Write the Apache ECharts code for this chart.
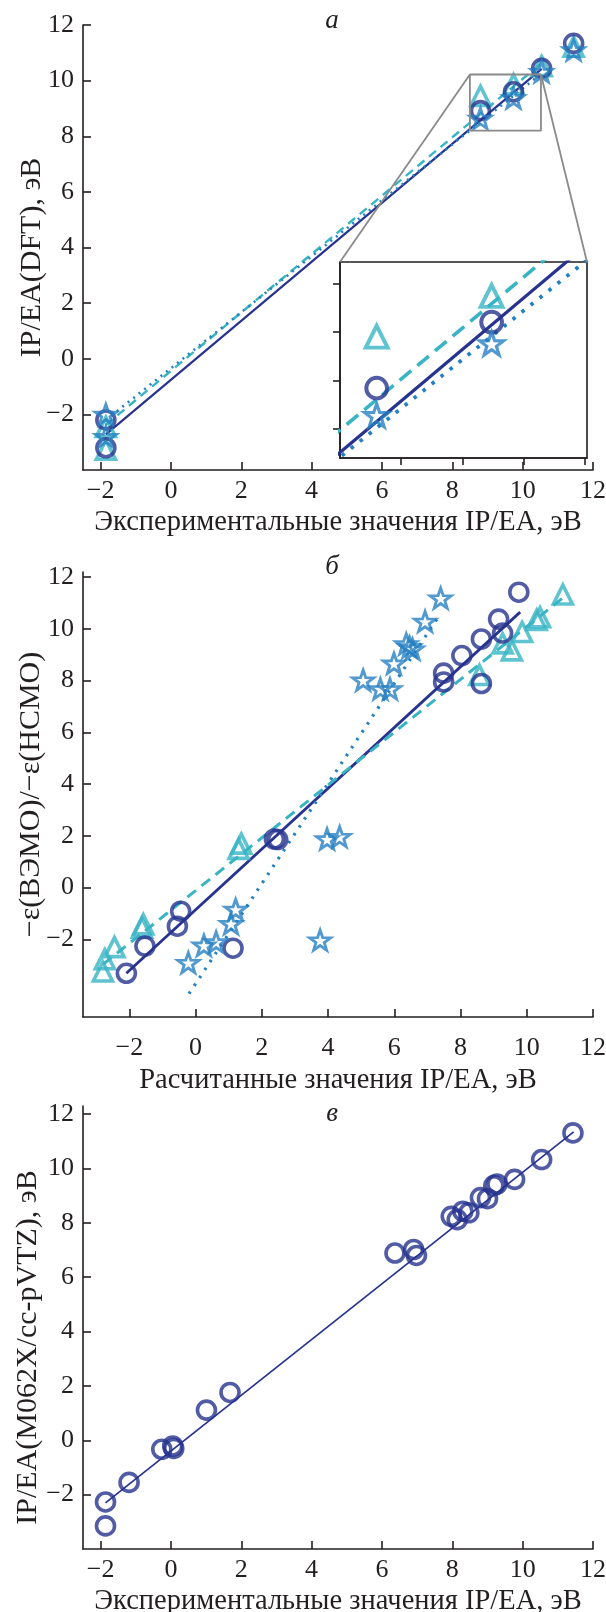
<!DOCTYPE html>
<html><head><meta charset="utf-8">
<script src="https://cdn.jsdelivr.net/npm/echarts@6/dist/echarts.min.js"></script>
<style>html,body{margin:0;padding:0;background:#fff}#c{width:606px;height:1612px}</style>
</head><body><div id="c"></div>
<script>
// ---------- Panel а ----------
const aCircles   = [[-1.85,-2.2],[-1.85,-3.2],[8.8,8.92],[9.74,9.6],[10.54,10.44],[11.45,11.34]];
const aTriangles = [[-1.85,-2.45],[-1.85,-3.27],[8.8,9.45],[9.74,9.87],[10.54,10.52],[11.45,11.22]];
const aStars     = [[-1.85,-2.0],[-1.85,-2.8],[8.8,8.64],[9.74,9.38],[10.54,10.32],[11.45,11.1]];
const aFitSolid  = [[-1.85,-2.72],[10.54,10.42]];
const aFitDashed = [[-1.85,-2.38],[10.54,10.63]];
const aFitDotted = [[-1.85,-2.2],[10.54,10.26]];
const aZoomX = [8.5, 10.52];
const aZoomY = [8.2, 10.22];
const aZoomTicksX = [9, 9.5, 10, 10.5];
const aZoomTicksY = [8.5, 9, 9.5, 10];

// ---------- Panel б ----------
const bCircles = [[-2.09,-3.31],[-1.53,-2.26],[-0.55,-1.49],[-0.45,-0.91],[1.13,-2.34],[2.38,1.88],[2.48,1.86],
  [7.49,8.29],[7.49,7.95],[8.04,8.97],[8.63,9.61],[8.63,7.89],[9.15,10.38],[9.27,9.84],[9.76,11.42]];
const bTriangles = [[-2.8,-3.24],[-2.74,-2.77],[-2.45,-2.3],[-1.62,-1.55],[-1.58,-1.42],[1.3,1.5],[1.38,1.7],
  [8.57,8.22],[9.27,9.44],[9.55,9.17],[9.86,9.88],[10.3,10.35],[10.4,10.45],[11.09,11.33]];
const bStars = [[-0.22,-2.9],[0.25,-2.23],[0.62,-2.1],[1.07,-1.39],[1.21,-0.84],[3.76,-2.03],[3.97,1.88],[4.35,1.97],
  [5.06,8.02],[5.58,7.68],[5.87,7.68],[5.99,8.67],[6.36,9.42],[6.46,9.3],[6.55,9.22],[6.93,10.29],[7.4,11.19]];
const bFitSolid  = [[-2.09,-3.31],[9.8,10.65]];
const bFitDashed = [[-2.8,-2.97],[11.09,11.2]];
const bFitDotted = [[-0.2,-4.1],[7.4,10.6]];

// ---------- Panel в ----------
const cCircles = [[-1.86,-2.27],[-1.86,-3.15],[-1.19,-1.55],[-0.26,-0.33],[0.05,-0.21],[0.08,-0.3],[1.01,1.11],[1.68,1.76],
  [6.37,6.89],[6.9,7.02],[6.98,6.8],[7.97,8.24],[8.14,8.12],[8.3,8.43],[8.47,8.37],[8.8,8.93],[9.0,8.89],
  [9.18,9.37],[9.27,9.43],[9.77,9.6],[10.54,10.33],[11.43,11.31]];
const cFit = [[-1.86,-2.3],[11.45,11.35]];

// ---------- Axis tick values ----------
const xTicks = [-2, 0, 2, 4, 6, 8, 10, 12];
const yTicks = [-2, 0, 2, 4, 6, 8, 10, 12];

const NAVY = '#27338f', CYAN = '#38b4c4', SKY = '#2580c2';
const INK = '#231f20';
const FONT = '"Liberation Serif", "Times New Roman", serif';
const STAR = 'path://M0,-10 L2.35,-3.24 L9.51,-3.09 L3.8,1.24 L5.88,8.09 L0,4 L-5.88,8.09 L-3.8,1.24 L-9.51,-3.09 L-2.35,-3.24 Z';

function scat(data, g, kind, color, k) {
  k = k || 1;
  const sym = kind === 'c' ? 'circle' : kind === 't' ? 'triangle' : STAR;
  const size = (kind === 'c' ? 18 : kind === 't' ? 19 : 21) * k;
  return { type: 'scatter', xAxisIndex: g, yAxisIndex: g, data: data, symbol: sym, symbolSize: size,
    symbolKeepAspect: true, clip: true, silent: true, z: 3,
    itemStyle: { color: 'rgba(255,255,255,0)', borderColor: color, borderWidth: (kind === 's' ? 2.9 : 3.6) * (k > 1 ? 1.1 : 1) } };
}
function fit(data, g, color, type, width) {
  return { type: 'line', xAxisIndex: g, yAxisIndex: g, data: data, showSymbol: false, symbol: 'none', clip: true,
    silent: true, z: 2, lineStyle: { color: color, width: width, type: type } };
}
function fmt(v) { return v < 0 ? '\u2212' + Math.abs(v) : '' + v; }
function xAx(g, min, max, name, gap, margin) {
  return { type: 'value', gridIndex: g, min: min, max: max, name: name, nameLocation: 'middle', nameGap: gap,
    nameTextStyle: { fontFamily: FONT, fontSize: 28.5, color: INK },
    axisLine: { onZero: false, lineStyle: { color: INK, width: 1.6 } },
    axisTick: { inside: true, length: 8, customValues: xTicks, lineStyle: { color: INK, width: 1.6 } },
    axisLabel: { customValues: xTicks, fontFamily: FONT, fontSize: 26, color: INK, margin: margin, formatter: fmt },
    splitLine: { show: false } };
}
function yAx(g, min, max, name, gap, shiftDown) {
  return { type: 'value', gridIndex: g, min: min, max: max, name: name, nameLocation: 'middle', nameGap: gap,
    nameMoveOverlap: false,
    nameTextStyle: { fontFamily: FONT, fontSize: 30, color: INK, padding: [0, shiftDown * 2, 0, 0] },
    axisLine: { onZero: false, lineStyle: { color: INK, width: 1.6 } },
    axisTick: { inside: true, length: 8, customValues: yTicks, lineStyle: { color: INK, width: 1.6 } },
    axisLabel: { customValues: yTicks, fontFamily: FONT, fontSize: 26, color: INK, margin: 9, formatter: fmt },
    splitLine: { show: false } };
}
function insetAx(g, min, max, ticks) {
  return { type: 'value', gridIndex: g, min: min, max: max, z: 6,
    axisLine: { onZero: false, lineStyle: { color: INK, width: 1.6 } },
    axisTick: { inside: false, length: 7, customValues: ticks, lineStyle: { color: INK, width: 1.6 } },
    axisLabel: { show: false }, splitLine: { show: false } };
}

const chart = echarts.init(document.getElementById('c'), null, { renderer: 'canvas' });
const zoomRect = [[aZoomX[0], aZoomY[0]], [aZoomX[1], aZoomY[0]], [aZoomX[1], aZoomY[1]], [aZoomX[0], aZoomY[1]], [aZoomX[0], aZoomY[0]]];

chart.setOption({
  animation: false,
  backgroundColor: '#fff',
  grid: [
    { left: 83, top: 25, width: 510, height: 445, outerBoundsMode: 'none' },
    { left: 340, top: 262, width: 247, height: 196, show: true, backgroundColor: '#fff', borderColor: INK, borderWidth: 1.6, z: 5, outerBoundsMode: 'none' },
    { left: 83, top: 572, width: 510, height: 445, outerBoundsMode: 'none' },
    { left: 83, top: 1106, width: 510, height: 443, outerBoundsMode: 'none' }
  ],
  xAxis: [
    xAx(0, -2.5, 12, 'Экспериментальные значения IP/EA, эВ', 38, 8),
    insetAx(1, aZoomX[0], aZoomX[1], aZoomTicksX),
    xAx(2, -3.4, 12, 'Расчитанные значения IP/EA, эВ', 49, 18),
    xAx(3, -2.5, 12, 'Экспериментальные значения IP/EA, эВ', 38, 8)
  ],
  yAxis: [
    yAx(0, -4, 12, 'IP/EA(DFT), эВ', 36, 10),
    insetAx(1, aZoomY[0], aZoomY[1], aZoomTicksY),
    yAx(2, -5, 12.2, '\u2212ε(ВЭМО)/\u2212ε(НСМО)', 37, 0),
    yAx(3, -4, 12.3, 'IP/EA(M062X/cc-pVTZ), эВ', 40, 20)
  ],
  series: [
    // panel а main
    fit(aFitSolid, 0, NAVY, 'solid', 2.2),
    fit(aFitDashed, 0, CYAN, [9, 6], 2.4),
    fit(aFitDotted, 0, SKY, [2, 5], 2.6),
    scat(aTriangles, 0, 't', CYAN),
    scat(aCircles, 0, 'c', NAVY),
    scat(aStars, 0, 's', SKY),
    { type: 'line', xAxisIndex: 0, yAxisIndex: 0, data: zoomRect, symbol: 'none', silent: true, z: 4,
      lineStyle: { color: '#8a8a8a', width: 1.8 } },
    // inset
    Object.assign(fit(aFitSolid, 1, NAVY, 'solid', 3.2), { z: 7 }),
    Object.assign(fit(aFitDashed, 1, CYAN, [15, 8], 3.6), { z: 7 }),
    Object.assign(fit(aFitDotted, 1, SKY, [3.5, 8], 3.8), { z: 7 }),
    Object.assign(scat(aTriangles, 1, 't', CYAN, 1.15), { z: 8 }),
    Object.assign(scat(aCircles, 1, 'c', NAVY, 1.15), { z: 8 }),
    Object.assign(scat(aStars, 1, 's', SKY, 1.15), { z: 8 }),
    // panel б
    fit(bFitSolid, 2, NAVY, 'solid', 2.8),
    fit(bFitDashed, 2, CYAN, [11, 7], 3),
    fit(bFitDotted, 2, SKY, [2.5, 7], 3.2),
    scat(bTriangles, 2, 't', CYAN),
    scat(bCircles, 2, 'c', NAVY),
    scat(bStars, 2, 's', SKY),
    // panel в
    fit(cFit, 3, NAVY, 'solid', 1.7),
    scat(cCircles, 3, 'c', NAVY)
  ]
});

function addExtras() {
  const p1 = chart.convertToPixel({ xAxisIndex: 0, yAxisIndex: 0 }, [aZoomX[0], aZoomY[1]]);
  const p2 = chart.convertToPixel({ xAxisIndex: 0, yAxisIndex: 0 }, [aZoomX[1], aZoomY[1]]);
  const q1 = chart.convertToPixel({ xAxisIndex: 1, yAxisIndex: 1 }, [aZoomX[0], aZoomY[1]]);
  const q2 = chart.convertToPixel({ xAxisIndex: 1, yAxisIndex: 1 }, [aZoomX[1], aZoomY[1]]);
  const tfont = 'italic 27px ' + FONT;
  chart.setOption({
    graphic: [
      { type: 'line', z: 10, shape: { x1: p1[0], y1: p1[1], x2: q1[0], y2: q1[1] }, style: { stroke: '#8a8a8a', lineWidth: 1.8 } },
      { type: 'line', z: 10, shape: { x1: p2[0], y1: p2[1], x2: q2[0], y2: q2[1] }, style: { stroke: '#8a8a8a', lineWidth: 1.8 } },
      { type: 'text', x: 332, y: 21, style: { text: 'а', font: tfont, fill: INK, textAlign: 'center', textVerticalAlign: 'middle' } },
      { type: 'text', x: 332, y: 567, style: { text: 'б', font: tfont, fill: INK, textAlign: 'center', textVerticalAlign: 'middle' } },
      { type: 'text', x: 332, y: 1114, style: { text: 'в', font: tfont, fill: INK, textAlign: 'center', textVerticalAlign: 'middle' } }
    ]
  });
}
addExtras();
</script>
</body></html>
